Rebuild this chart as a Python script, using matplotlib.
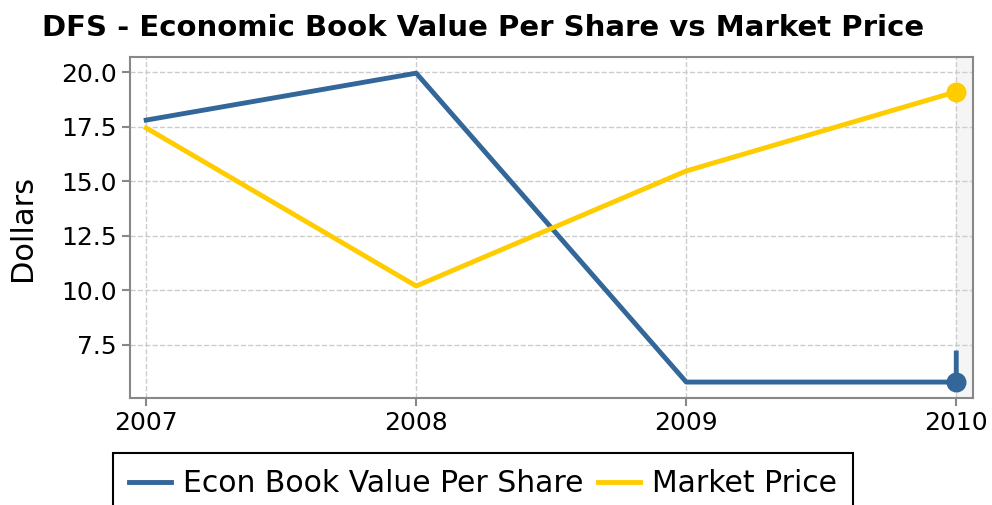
import matplotlib
matplotlib.use('Agg')
import matplotlib.pyplot as plt

years = [2007, 2008, 2009, 2010]
econ_x = [2007, 2008, 2009, 2010, 2010]
econ_bvps = [17.8, 19.95, 5.8, 5.8, 7.13]
market_price = [17.44, 10.2, 15.47, 19.1]
title = 'DFS - Economic Book Value Per Share vs Market Price'

plt.rcParams['font.family'] = ['DejaVu Sans']

fig = plt.figure(figsize=(9.92, 5.05), dpi=100)
ax = fig.add_axes([130/992, 1-398/505, (973-130)/992, (398-57)/505])

blue = '#336699'
gold = '#ffcc00'

ax.axvspan(2010, 2010.062, color='#f5f5f5', zorder=0)
ax.plot(econ_x, econ_bvps, c=blue, lw=3.5, label='Econ Book Value Per Share', zorder=3)
ax.plot(years, market_price, c=gold, lw=3.5, label='Market Price', zorder=3)
ax.scatter([econ_x[3]], [econ_bvps[3]], s=180, c=blue, zorder=4)
ax.scatter([years[-1]], [market_price[-1]], s=180, c=gold, zorder=4)

ax.set_xlim(2006.94, 2010.062)
ax.set_ylim(5.07, 20.69)
ax.set_xticks(years)
ax.set_xticklabels([str(y) for y in years])
ax.set_yticks([7.5, 10.0, 12.5, 15.0, 17.5, 20.0])
ax.grid(True, ls='--', c='#cccccc', lw=1)
ax.set_axisbelow(True)
for s in ax.spines.values():
    s.set_color('#888888')
    s.set_linewidth(1.5)
ax.tick_params(colors='#888888', labelcolor='black', labelsize=18, length=6, width=1.5)
ax.set_ylabel('Dollars', fontsize=22)
ax.yaxis.set_label_coords(-0.110, 0.5)

fig.text(0.487, 1-28/505, title, ha='center', va='center', fontsize=21, fontweight='bold')

leg = fig.legend(loc='upper center', bbox_to_anchor=(0.487, 1-453/505), ncol=2,
                 fontsize=21.5, frameon=True, fancybox=False, edgecolor='black', framealpha=1,
                 handlelength=1.4, handletextpad=0.4, columnspacing=0.5, borderaxespad=0,
                 borderpad=0.55)
leg.get_frame().set_linewidth(1.5)

fig.savefig('out.png', dpi=100)
